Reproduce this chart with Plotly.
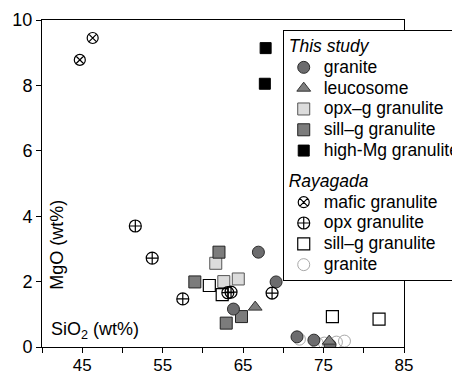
import plotly.graph_objects as go

# ---- data (SiO2 wt%, MgO wt%) ----
granite_ts_x = [66.9, 69.1, 63.8, 71.7, 73.8, 75.8]
granite_ts_y = [2.90, 1.99, 1.16, 0.31, 0.21, 0.06]

leuco_x = [66.5, 75.7]
leuco_y = [1.22, 0.18]

opxg_x = [61.6, 62.6, 64.4]
opxg_y = [2.56, 2.00, 2.08]

sillg_ts_x = [62.0, 59.0, 64.8, 62.9]
sillg_ts_y = [2.90, 1.99, 0.93, 0.73]

highmg_x = [67.8, 67.7]
highmg_y = [9.14, 8.05]

mafic_x = [44.7, 46.3]
mafic_y = [8.78, 9.45]

opx_ry_x = [51.6, 53.7, 57.5, 63.1, 63.5, 68.6]
opx_ry_y = [3.70, 2.72, 1.47, 1.66, 1.68, 1.65]

sillg_ry_x = [60.8, 62.4, 76.1, 81.9]
sillg_ry_y = [1.88, 1.60, 0.93, 0.85]

granite_ry_x = [72.0, 74.2, 75.1, 76.6, 77.6]
granite_ry_y = [0.24, 0.12, 0.12, 0.15, 0.18]

x_ticks = [40, 45, 50, 55, 60, 65, 70, 75, 80, 85]
x_ticktext = ["", "45", "", "55", "", "65", "", "75", "", "85"]
y_ticks = [0, 2, 4, 6, 8, 10]

LEG_FS = 13.7      # controls legend row spacing
TXT_FS = 17.5      # visible legend text size


def lbl(s):
    return f"<span style='font-size:{TXT_FS}px'>{s}</span>"


fig = go.Figure()


def add(x, y, name, group, gtitle, rank, symbol, size, fill, line, lw=1):
    fig.add_trace(go.Scatter(
        x=x, y=y, mode="markers", name=lbl(name), legendgroup=group, legendrank=rank,
        legendgrouptitle=dict(text=lbl(gtitle),
                              font=dict(size=LEG_FS, style="italic", color="black")),
        marker=dict(symbol=symbol, size=size, color=fill, line=dict(color=line, width=lw))))


# Rayagada drawn first (behind)
add(granite_ry_x, granite_ry_y, "granite", "ry", "Rayagada", 9, "circle-open", 12, "#a8a8a8", "#a8a8a8", 1)
add(sillg_ry_x, sillg_ry_y, "sill\u2013g granulite", "ry", "Rayagada", 8, "square", 12, "white", "black", 1.2)
add(mafic_x, mafic_y, "mafic granulite", "ry", "Rayagada", 6, "circle-x-open", 11, "black", "black", 1.2)
# This study
add(opxg_x, opxg_y, "opx\u2013g granulite", "ts", "This study", 3, "square", 12, "#dcdcdc", "#555555", 1)
add(sillg_ts_x, sillg_ts_y, "sill\u2013g granulite", "ts", "This study", 4, "square", 12, "#7c7c7c", "#222222", 1)
add(highmg_x, highmg_y, "high-Mg granulite", "ts", "This study", 5, "square", 11, "black", "black", 1)
add(granite_ts_x, granite_ts_y, "granite", "ts", "This study", 1, "circle", 12, "#6c6c6e", "#2a2a2a", 1)
add(leuco_x, leuco_y, "leucosome", "ts", "This study", 2, "triangle-up", 12, "#7e7e7e", "#333333", 1)
add(opx_ry_x, opx_ry_y, "opx granulite", "ry", "Rayagada", 7, "circle-cross-open", 12, "black", "black", 1.2)

fig.update_layout(
    width=452, height=373,
    margin=dict(l=42, r=48, t=20, b=26, autoexpand=False),
    paper_bgcolor="white", plot_bgcolor="white",
    font=dict(family="Liberation Sans, Arial, sans-serif", size=17, color="black"),
    showlegend=True,
    legend=dict(
        x=0.665, y=0.969, xanchor="left", yanchor="top",
        bgcolor="white", bordercolor="black", borderwidth=1,
        font=dict(size=LEG_FS, color="black"),
        traceorder="grouped", tracegroupgap=10, itemwidth=30,
    ),
    xaxis=dict(
        range=[40, 85], tickvals=x_ticks, ticktext=x_ticktext,
        ticks="outside", ticklen=5, tickcolor="black", tickwidth=1,
        showline=True, linecolor="black", linewidth=1, mirror=True,
        showgrid=False, zeroline=False, tickfont=dict(size=17),
        ticklabelstandoff=-2,
    ),
    yaxis=dict(
        range=[0, 10], tickvals=y_ticks,
        ticks="outside", ticklen=5, tickcolor="black", tickwidth=1,
        showline=True, linecolor="black", linewidth=1, mirror=True,
        showgrid=False, zeroline=False, tickfont=dict(size=18),
    ),
    annotations=[
        dict(text="SiO<sub>2</sub> (wt%)", xref="paper", yref="paper", x=0.02, y=0.05,
             xanchor="left", yanchor="middle", showarrow=False, font=dict(size=18)),
        dict(text="MgO (wt%)", xref="paper", yref="paper", x=0.041, y=0.312,
             xanchor="center", yanchor="middle", textangle=-90, showarrow=False, font=dict(size=18)),
    ],
)

fig.write_html("out.html", config={"displayModeBar": False},
               post_script="document.body.style.margin='0';document.body.style.overflow='hidden';")
